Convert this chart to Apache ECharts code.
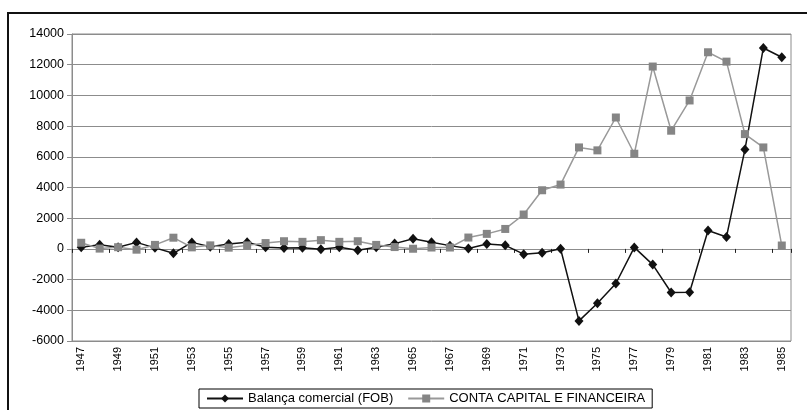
<!DOCTYPE html>
<html>
<head>
<meta charset="utf-8">
<script src="https://cdn.jsdelivr.net/npm/echarts@6/dist/echarts.min.js"></script>
<style>
  html, body { margin: 0; padding: 0; background: #fff; }
  #chart { width: 807px; height: 410px; }
</style>
</head>
<body>
<div id="chart"></div>
<script>
// anos 1947..1985
const years = [
  "1947", "1948", "1949", "1950", "1951", "1952", "1953", "1954", "1955", "1956",
  "1957", "1958", "1959", "1960", "1961", "1962", "1963", "1964", "1965", "1966",
  "1967", "1968", "1969", "1970", "1971", "1972", "1973", "1974", "1975", "1976",
  "1977", "1978", "1979", "1980", "1981", "1982", "1983", "1984", "1985"
];
const balancaComercial = [
  108, 277, 103, 425, 68, -286, 424, 148, 320, 437,
  107, 65, 72, -23, 113, -89, 112, 344, 655, 438,
  213, 26, 318, 232, -341, -244, 7, -4690, -3540, -2255,
  97, -1024, -2840, -2823, 1202, 780, 6470, 13090, 12486
];
const contaCapital = [
  400, 20, 110, -50, 260, 730, 100, 230, 80, 230,
  380, 500, 460, 570, 460, 500, 260, 120, 10, 90,
  90, 740, 980, 1300, 2240, 3820, 4190, 6610, 6420, 8560,
  6200, 11880, 7700, 9670, 12810, 12200, 7480, 6610, 220
];
const seriesNames = ["Balança comercial (FOB)", "CONTA CAPITAL E FINANCEIRA"];

const font = "Liberation Sans, Arial, sans-serif";
const gridGray = "#8c8c8c";

const myChart = echarts.init(document.getElementById("chart"));
const option = {
  animation: false,
  backgroundColor: "#fff",
  textStyle: { fontFamily: font },
  graphic: [
    {
      type: "rect",
      shape: { x: 8, y: 13, width: 900, height: 500 },
      style: { fill: "none", stroke: "#111", lineWidth: 2 },
      silent: true
    }
  ],
  grid: {
    left: 72,
    right: 16,
    top: 34,
    bottom: 69,
    containLabel: false,
    outerBoundsMode: "none",
    show: true,
    borderColor: gridGray,
    borderWidth: 1
  },
  legend: {
    data: seriesNames,
    left: 199,
    top: 389,
    orient: "horizontal",
    itemWidth: 36,
    itemHeight: 10,
    itemGap: 14,
    padding: [3, 7],
    borderColor: "#000",
    borderWidth: 1,
    borderRadius: 0,
    textStyle: { fontFamily: font, fontSize: 13, color: "#000" }
  },
  xAxis: {
    // linha e tiques no zero, rótulos embaixo
    type: "category",
    data: years,
    boundaryGap: true,
    axisLine: { show: true, onZero: true, lineStyle: { color: gridGray, width: 1 } },
    axisTick: { show: true, interval: 1, length: 4, lineStyle: { color: "#222" } },
    axisLabel: {
      interval: 1,
      rotate: 90,
      margin: 6,
      fontSize: 11,
      color: "#000",
      fontFamily: font
    },
    splitLine: { show: false }
  },
  yAxis: {
    type: "value",
    min: -6000,
    max: 14000,
    interval: 2000,
    axisLine: { show: true, lineStyle: { color: gridGray } },
    axisTick: { show: true, length: 5, lineStyle: { color: gridGray } },
    axisLabel: {
      fontSize: 12.5,
      color: "#000",
      margin: 8,
      fontFamily: font,
      formatter: (v) => String(v)
    },
    splitLine: { show: true, lineStyle: { color: gridGray, width: 1 } }
  },
  series: [
    {
      name: seriesNames[0],
      type: "line",
      data: balancaComercial,
      symbol: "diamond",
      symbolSize: [9, 10],
      itemStyle: { color: "#111" },
      lineStyle: { color: "#111", width: 1.5 }
    },
    {
      name: seriesNames[1],
      type: "line",
      data: contaCapital,
      symbol: "rect",
      symbolSize: 8,
      itemStyle: { color: "#858585" },
      lineStyle: { color: "#999", width: 1.5 }
    }
  ]
};
myChart.setOption(option);
</script>
</body>
</html>
